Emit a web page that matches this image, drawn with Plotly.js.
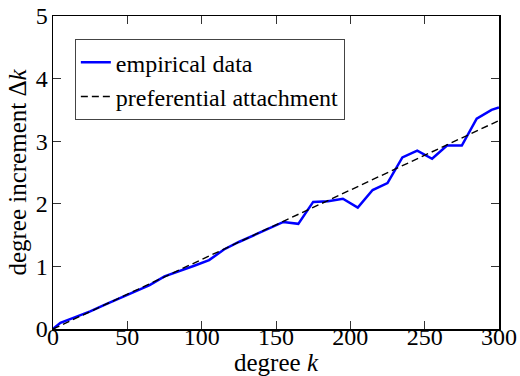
<!DOCTYPE html>
<html><head><meta charset="utf-8">
<script src="https://cdn.plot.ly/plotly-3.0.1.min.js"></script>
<style>html,body{margin:0;padding:0;background:#fff}</style>
</head><body>
<div id="chart" style="width:520px;height:376px"></div>
<script>
const degreeK = [0,5,15,25,35,45,55,65,75,85,95,105,115,125,135,145,155,165,175,185,195,205,215,225,235,245,255,265,275,285,295,300];
const empirical = [0,0.1,0.19,0.28,0.39,0.49,0.59,0.70,0.84,0.92,1.01,1.10,1.27,1.39,1.50,1.60,1.71,1.68,2.03,2.04,2.08,1.94,2.22,2.33,2.74,2.85,2.72,2.93,2.93,3.36,3.50,3.54];
const prefK = [0,300];
const prefVal = [0,3.33];
const xTicks = [0,50,100,150,200,250,300];
const yTicks = [0,1,2,3,4,5];
const fontFam = 'Liberation Serif, Times New Roman, serif';
const traces = [
  {x: degreeK, y: empirical, mode:'lines', name:'empirical data', line:{color:'#0000ff', width:2.5}},
  {x: prefK, y: prefVal, mode:'lines', name:'preferential attachment', line:{color:'#000', width:1.4, dash:'7px,4px'}}
];
const axisCommon = {showgrid:false, zeroline:false, showline:true, linecolor:'#000', linewidth:1.5, mirror:'allticks', ticks:'inside', ticklen:8, tickwidth:1, tickcolor:'#333', automargin:false, tickfont:{family:fontFam, size:24, color:'#000'}};
const layout = {
  width:520, height:376,
  margin:{l:53, r:21, t:16, b:47},
  paper_bgcolor:'#fff', plot_bgcolor:'#fff',
  font:{family:fontFam, color:'#000'},
  showlegend:true,
  legend:{x:0.049, y:0.926, xanchor:'left', yanchor:'top', bgcolor:'#fff', bordercolor:'#444', borderwidth:1, font:{family:fontFam, size:24, color:'#000'}, tracegroupgap:0},
  xaxis: Object.assign({}, axisCommon, {range:[0,300], tickvals:xTicks, ticklabelstandoff:-14, title:{text:'degree <i>k</i>', font:{family:fontFam, size:25}, standoff:4}}),
  yaxis: Object.assign({}, axisCommon, {range:[0,5], tickvals:yTicks, ticklabelstandoff:-1, title:{text:'degree increment Δ<i>k</i>', font:{family:fontFam, size:25}, standoff:2}})
};
Plotly.newPlot('chart', traces, layout, {displayModeBar:false, staticPlot:true});
</script>
</body></html>
